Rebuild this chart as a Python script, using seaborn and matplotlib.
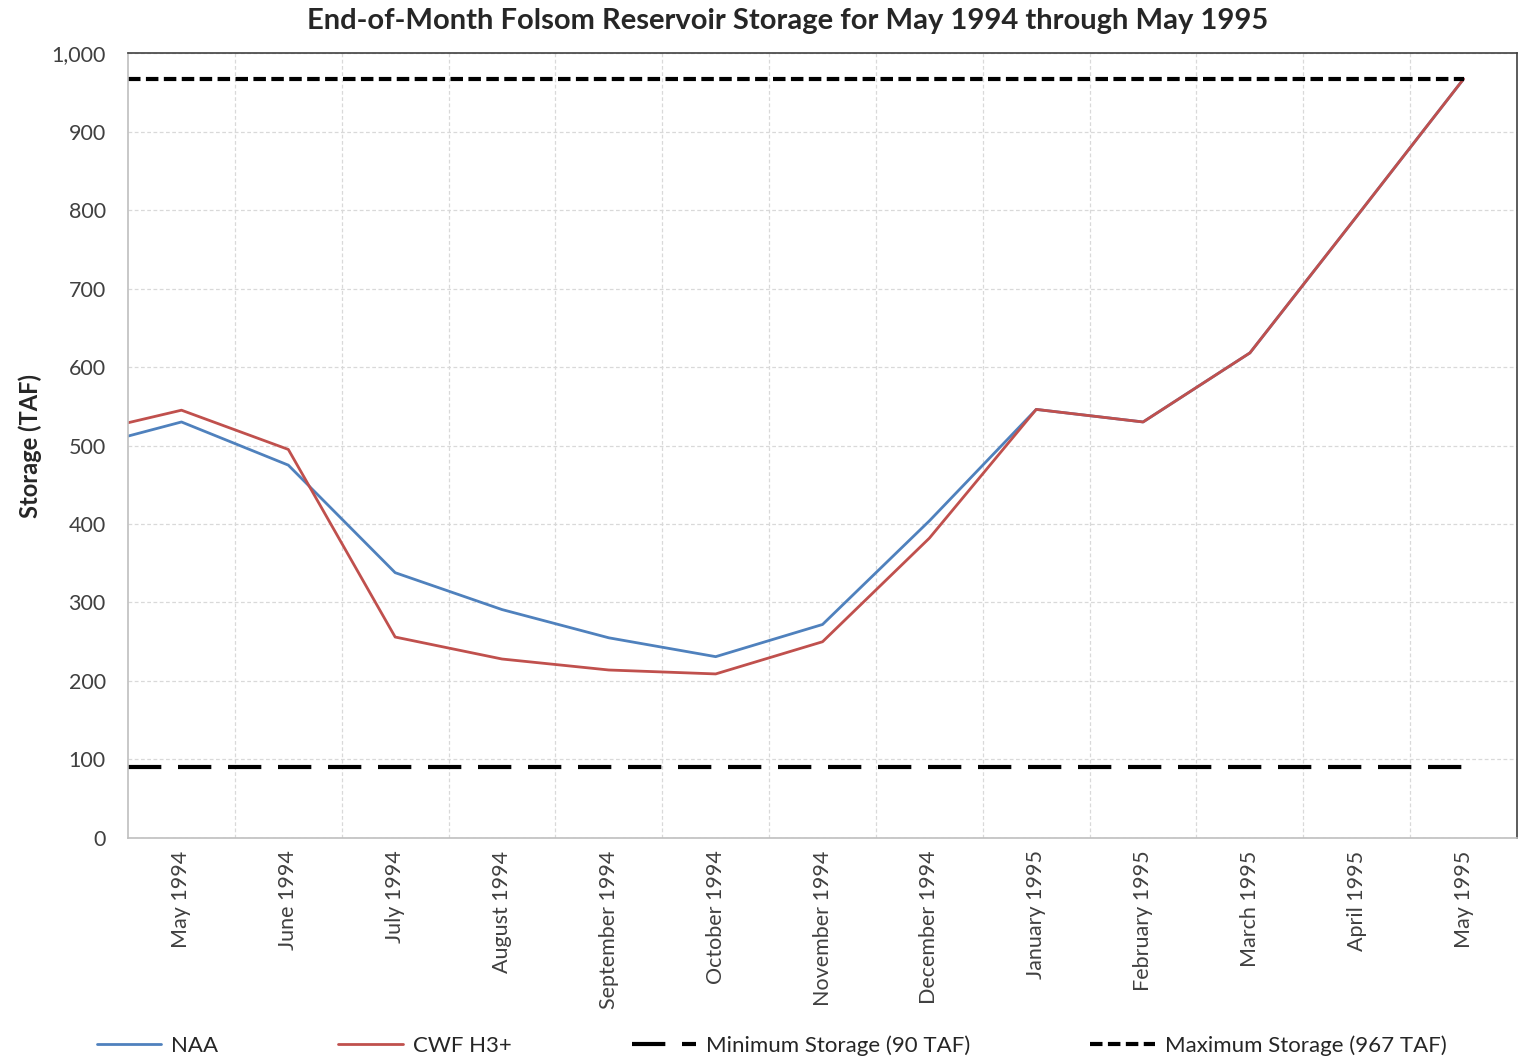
import numpy as np
import pandas as pd
import matplotlib.pyplot as plt
import seaborn as sns
from matplotlib.ticker import FuncFormatter, MultipleLocator

months = ["May 1994", "June 1994", "July 1994", "August 1994", "September 1994",
          "October 1994", "November 1994", "December 1994", "January 1995",
          "February 1995", "March 1995", "April 1995", "May 1995"]
# first value = storage at start of period (end of April 1994)
naa = [512, 530, 475, 338, 291, 255, 231, 272, 404, 546, 530, 618, 792, 967]
cwf = [529, 545, 495, 256, 228, 214, 209, 250, 382, 546, 530, 618, 792, 967]
min_storage = 90
max_storage = 967

# x positions: start of month axis, then centre of each month
pos = np.concatenate([[0.0], np.arange(len(months)) + 0.5])

df = pd.DataFrame({
    "x": np.concatenate([pos, pos]),
    "storage": naa + cwf,
    "run": ["NAA"] * len(pos) + ["CWF H3+"] * len(pos),
})

sns.set_theme(style="whitegrid")
plt.rcParams["font.family"] = ["Lato", "DejaVu Sans"]

fig = plt.figure(figsize=(15.19, 10.61), dpi=100)
ax = fig.add_axes([0.0843, 0.2102, 0.9144, 0.7398])

sns.lineplot(data=df, x="x", y="storage", hue="run", ax=ax,
             palette={"NAA": "#4F81BD", "CWF H3+": "#C0504D"},
             linewidth=2, legend=False)

h_min, = ax.plot([pos[0], pos[-1]], [min_storage, min_storage], color="black",
                 lw=3, dashes=(8, 4))
h_max, = ax.plot([pos[0], pos[-1]], [max_storage, max_storage], color="black",
                 lw=3, dashes=(3, 1.3))

ax.set_xlim(0, len(months))
ax.set_ylim(0, 1000)
ax.yaxis.set_major_locator(MultipleLocator(100))
ax.yaxis.set_major_formatter(FuncFormatter(lambda v, p: f"{int(v):,}"))

# grid at month boundaries, labels at month centres
ax.set_xticks(np.arange(1, len(months)))
ax.set_xticks(np.arange(len(months)) + 0.5, minor=True)
ax.set_xticklabels([])
ax.set_xticklabels(months, minor=True, rotation=90, fontsize=15.5, color="#404040")
ax.grid(True, which="major", color="#d9d9d9", linestyle=(0, (3, 2)), linewidth=0.9)
ax.grid(False, which="minor")
ax.tick_params(axis="both", which="both", length=0)
ax.tick_params(axis="y", labelsize=15.5, labelcolor="#404040", pad=16)
ax.tick_params(axis="x", which="minor", pad=9)

ax.set_xlabel("")
ax.set_ylabel("Storage (TAF)", fontsize=17, fontweight="bold", labelpad=7)
ax.set_title("End-of-Month Folsom Reservoir Storage for May 1994 through May 1995",
             fontsize=21, fontweight="bold", pad=17, x=0.475)

for side in ["left", "bottom"]:
    ax.spines[side].set_color("#bfbfbf")
for side in ["top", "right"]:
    ax.spines[side].set_color("#404040")
for s in ax.spines.values():
    s.set_linewidth(1.2)

handles = [plt.Line2D([], [], color="#4F81BD", lw=2),
           plt.Line2D([], [], color="#C0504D", lw=2),
           h_min, h_max]
labels = ["NAA", "CWF H3+", "Minimum Storage (90 TAF)", "Maximum Storage (967 TAF)"]
fig.legend(handles, labels, loc="lower center", ncol=4, frameon=False,
           fontsize=16, handlelength=2.9, columnspacing=5.4, handletextpad=0.45,
           bbox_to_anchor=(0.508, -0.014))

fig.savefig("out.png", dpi=100)
